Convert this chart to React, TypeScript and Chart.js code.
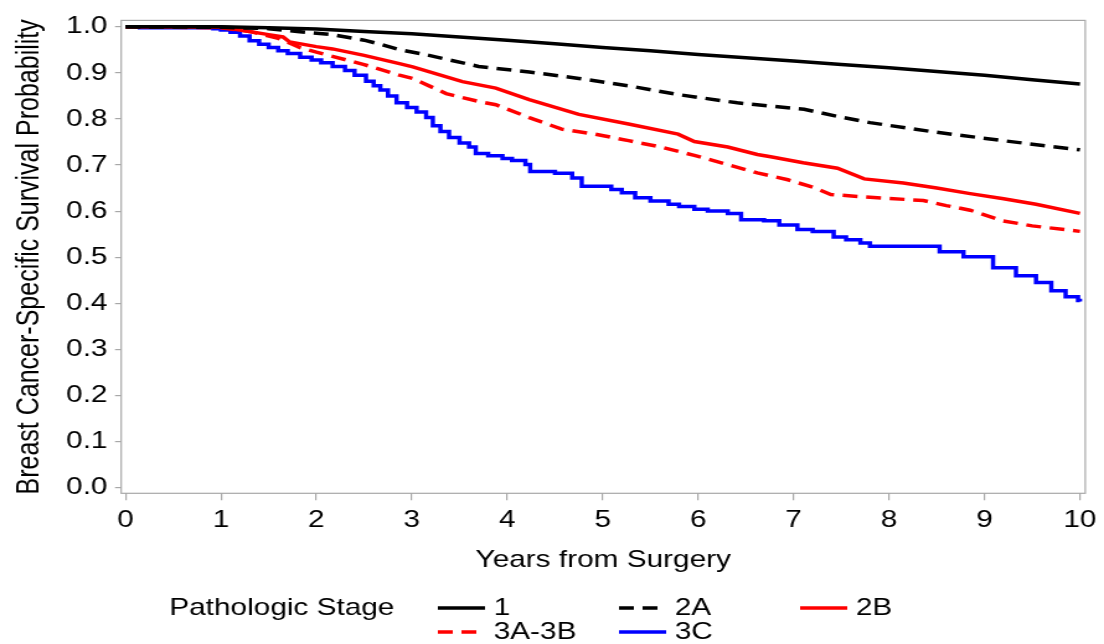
import React, { useEffect, useRef } from "react";
import { Chart, registerables } from "chart.js";

Chart.register(...registerables);

// ---- data ----
const stage1Years = [0, 1.0, 1.5, 2.0, 2.5, 3.0, 3.5, 4.0, 4.5, 5.0, 5.5, 6.0, 6.5, 7.0, 7.5, 8.0, 8.5, 9.0, 9.5, 10.0];
const stage1Surv = [1.0, 1.0, 0.998, 0.995, 0.99, 0.985, 0.978, 0.971, 0.963, 0.955, 0.948, 0.94, 0.933, 0.926, 0.918, 0.911, 0.903, 0.895, 0.885, 0.876];

const stage2AYears = [0, 1.0, 1.5, 1.8, 2.16, 2.5, 2.67, 2.86, 3.18, 3.7, 4.23, 4.75, 5.27, 5.79, 6.41, 7.11, 7.45, 7.8, 8.5, 9.19, 10.0];
const stage2ASurv = [1.0, 0.999, 0.996, 0.99, 0.983, 0.971, 0.962, 0.951, 0.938, 0.914, 0.902, 0.888, 0.872, 0.853, 0.835, 0.821, 0.806, 0.792, 0.771, 0.753, 0.733];

const stage2BYears = [0, 1.0, 1.2, 1.5, 1.65, 1.72, 2.0, 2.17, 2.5, 2.87, 3.01, 3.53, 3.88, 4.23, 4.75, 5.27, 5.79, 5.96, 6.31, 6.62, 6.76, 7.1, 7.46, 7.74, 8.15, 8.5, 8.85, 9.2, 9.54, 10.0];
const stage2BSurv = [1.0, 0.999, 0.993, 0.983, 0.978, 0.967, 0.957, 0.952, 0.938, 0.92, 0.913, 0.881, 0.867, 0.842, 0.81, 0.789, 0.767, 0.751, 0.739, 0.723, 0.718, 0.705, 0.693, 0.67, 0.661, 0.65, 0.638, 0.627, 0.615, 0.595];

const stage3ABYears = [0, 1.0, 1.3, 1.6, 1.83, 2.0, 2.5, 2.87, 3.01, 3.36, 3.7, 3.88, 4.23, 4.57, 4.92, 5.27, 5.61, 5.96, 6.31, 6.62, 6.94, 7.2, 7.39, 7.8, 8.36, 8.6, 8.85, 9.19, 9.5, 10.0];
const stage3ABSurv = [1.0, 0.998, 0.99, 0.975, 0.955, 0.945, 0.918, 0.895, 0.888, 0.855, 0.838, 0.831, 0.803, 0.778, 0.767, 0.753, 0.739, 0.721, 0.701, 0.683, 0.668, 0.652, 0.636, 0.63, 0.623, 0.612, 0.602, 0.579, 0.568, 0.556];

const stage3CYears = [0, 0.15, 0.92, 1.0, 1.1, 1.2, 1.3, 1.4, 1.5, 1.6, 1.7, 1.83, 1.95, 2.05, 2.17, 2.3, 2.4, 2.52, 2.6, 2.67, 2.75, 2.84, 2.95, 3.05, 3.15, 3.22, 3.3, 3.39, 3.5, 3.6, 3.67, 3.8, 3.95, 4.05, 4.19, 4.24, 4.5, 4.68, 4.78, 5.09, 5.2, 5.34, 5.5, 5.69, 5.8, 5.96, 6.1, 6.31, 6.45, 6.69, 6.85, 7.04, 7.2, 7.42, 7.55, 7.7, 7.8, 8.53, 8.78, 9.09, 9.33, 9.54, 9.7, 9.85, 9.98, 10.0];
const stage3CSurv = [1.0, 0.998, 0.996, 0.993, 0.988, 0.98, 0.97, 0.962, 0.955, 0.948, 0.942, 0.934, 0.928, 0.922, 0.914, 0.905, 0.895, 0.882, 0.872, 0.863, 0.85, 0.835, 0.825, 0.815, 0.803, 0.785, 0.773, 0.76, 0.748, 0.739, 0.725, 0.72, 0.714, 0.71, 0.701, 0.686, 0.682, 0.672, 0.654, 0.647, 0.64, 0.629, 0.622, 0.615, 0.61, 0.604, 0.6, 0.595, 0.581, 0.579, 0.57, 0.56, 0.556, 0.544, 0.538, 0.531, 0.524, 0.512, 0.501, 0.477, 0.46, 0.445, 0.427, 0.414, 0.406, 0.404];

const seriesLabels = ["1", "2A", "2B", "3A-3B", "3C"];
const xTicks = [0, 1, 2, 3, 4, 5, 6, 7, 8, 9, 10];
const yTicks = [0, 0.1, 0.2, 0.3, 0.4, 0.5, 0.6, 0.7, 0.8, 0.9, 1.0];
const legendTitle = "Pathologic Stage";
const xTitle = "Years from Surgery";
const yTitle = "Breast Cancer-Specific Survival Probability";

// ---- presentation ----
const FONT = "'Liberation Sans', Arial, Helvetica, sans-serif";
const CANVAS_W = 890; // internal width, stretched by CSS to 1104 (reference is horizontally stretched)
const CANVAS_H = 644;
const LINE_W = 3.5;

const toPoints = (xs: number[], ys: number[]) => xs.map((x, i) => ({ x, y: ys[i] }));

const framePlugin = {
  id: "kmFrame",
  afterDraw(chart: any) {
    const { ctx, chartArea: a } = chart;
    ctx.save();
    ctx.strokeStyle = "#a8a8a8";
    ctx.lineWidth = 1.2;
    ctx.strokeRect(a.left, a.top, a.right - a.left, a.bottom - a.top);
    ctx.restore();
  },
};

const legendPlugin = {
  id: "kmLegend",
  afterDraw(chart: any) {
    const ctx = chart.ctx;
    ctx.save();
    ctx.font = `24px ${FONT}`;
    ctx.fillStyle = "#000";
    ctx.textBaseline = "middle";
    ctx.textAlign = "left";
    const rows = [608, 632];
    const cols = [353, 499, 645];
    ctx.fillText(legendTitle, 136.5, rows[0]);
    chart.data.datasets.forEach((ds: any, i: number) => {
      const x = cols[i % 3];
      const y = rows[Math.floor(i / 3)];
      ctx.beginPath();
      ctx.setLineDash(ds.borderDash || []);
      ctx.strokeStyle = ds.borderColor;
      ctx.lineWidth = LINE_W;
      ctx.moveTo(x, y);
      ctx.lineTo(x + 38, y);
      ctx.stroke();
      ctx.setLineDash([]);
      ctx.fillText(ds.label, x + 45, y);
    });
    ctx.restore();
  },
};

export default function App() {
  const canvasRef = useRef<HTMLCanvasElement | null>(null);

  useEffect(() => {
    if (!canvasRef.current) return;
    Chart.defaults.font.family = FONT;
    const dash = [12, 7];
    const chart = new Chart(canvasRef.current, {
      type: "line",
      data: {
        datasets: [
          { label: seriesLabels[0], data: toPoints(stage1Years, stage1Surv), borderColor: "#000000", borderWidth: LINE_W, pointRadius: 0 },
          { label: seriesLabels[1], data: toPoints(stage2AYears, stage2ASurv), borderColor: "#000000", borderWidth: LINE_W, borderDash: dash, pointRadius: 0 },
          { label: seriesLabels[2], data: toPoints(stage2BYears, stage2BSurv), borderColor: "#ff0000", borderWidth: LINE_W, pointRadius: 0 },
          { label: seriesLabels[3], data: toPoints(stage3ABYears, stage3ABSurv), borderColor: "#ff0000", borderWidth: LINE_W, borderDash: dash, pointRadius: 0 },
          { label: seriesLabels[4], data: toPoints(stage3CYears, stage3CSurv), borderColor: "#0000ff", borderWidth: LINE_W, pointRadius: 0, stepped: true },
        ],
      },
      options: {
        animation: false,
        responsive: false,
        maintainAspectRatio: false,
        devicePixelRatio: 1,
        parsing: true,
        layout: { padding: { top: 12.5, right: 11.8, bottom: 69.6, left: 0 } },
        plugins: {
          legend: { display: false },
          tooltip: { enabled: false },
        },
        scales: {
          x: {
            type: "linear",
            min: -0.045,
            max: 10.056,
            afterBuildTicks: (axis: any) => {
              axis.ticks = xTicks.map((v) => ({ value: v }));
            },
            afterFit: (axis: any) => {
              axis.height = 81.1;
            },
            border: { display: false },
            grid: { drawOnChartArea: false, drawTicks: true, tickLength: 7, color: "#a8a8a8", lineWidth: 1.2 },
            ticks: {
              padding: 6,
              color: "#000",
              font: { family: FONT, size: 24 },
              maxRotation: 0,
              autoSkip: false,
              callback: (v: any) => String(v),
            },
            title: {
              display: true,
              text: xTitle,
              color: "#000",
              font: { family: FONT, size: 24 },
              padding: { top: 0, bottom: 0 },
            },
          },
          y: {
            type: "linear",
            min: -0.0124,
            max: 1.0139,
            afterBuildTicks: (axis: any) => {
              axis.ticks = yTicks.map((v) => ({ value: v }));
            },
            afterFit: (axis: any) => {
              axis.width = 97.7;
            },
            border: { display: false },
            grid: { drawOnChartArea: false, drawTicks: true, tickLength: 5, color: "#a8a8a8", lineWidth: 1.2 },
            ticks: {
              padding: 6,
              color: "#000",
              font: { family: FONT, size: 24 },
              autoSkip: false,
              callback: (v: any) => Number(v).toFixed(1),
            },
            title: {
              display: true,
              text: yTitle,
              color: "#000",
              font: { family: FONT, size: 25 },
              padding: { top: 9, bottom: 0 },
            },
          },
        },
      },
      plugins: [framePlugin, legendPlugin],
    } as any);
    return () => chart.destroy();
  }, []);

  return (
    <div style={{ position: "fixed", left: 0, top: 0, width: 1104, height: 644, background: "#ffffff" }}>
      <canvas
        ref={canvasRef}
        width={CANVAS_W}
        height={CANVAS_H}
        style={{ width: "1104px", height: "644px", display: "block" }}
      />
    </div>
  );
}
